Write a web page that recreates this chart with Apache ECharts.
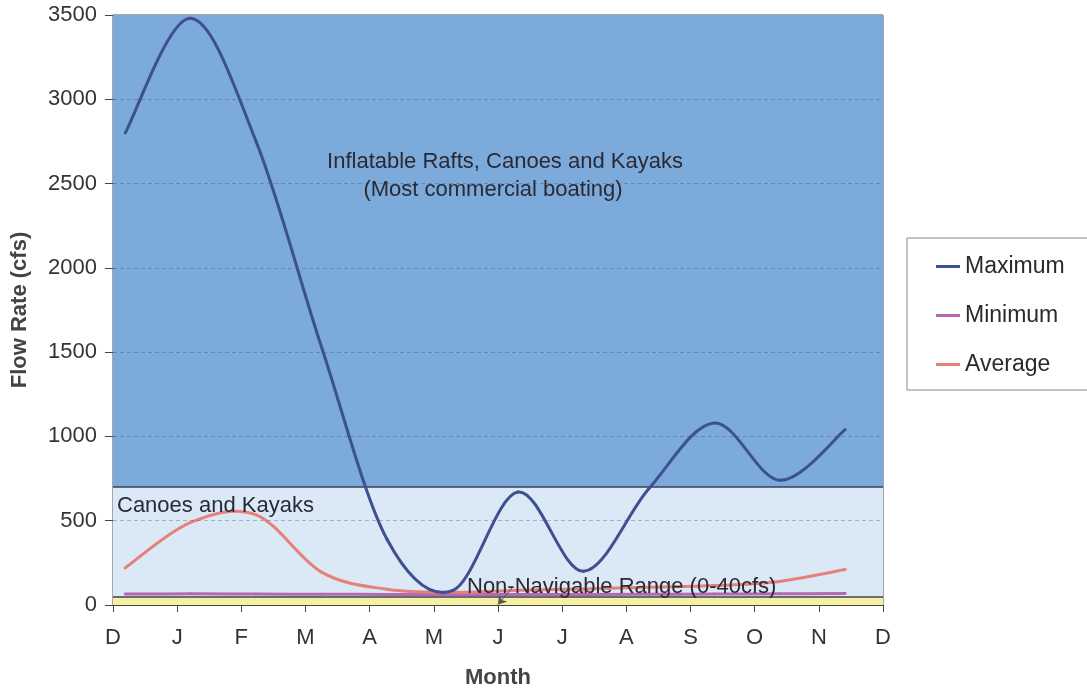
<!DOCTYPE html>
<html>
<head>
<meta charset="utf-8">
<script src="https://cdn.jsdelivr.net/npm/echarts@6/dist/echarts.min.js"></script>
<style>
html,body{margin:0;padding:0;background:#fff;}
#chart{width:1087px;height:694px;}
</style>
</head>
<body>
<div id="chart"></div>
<script>
// ---- data ----
var monthLabels = ['D','J','F','M','A','M','J','J','A','S','O','N','D'];
var pointX = [0.19, 1.21, 2.23, 3.25, 4.27, 5.29, 6.31, 7.33, 8.35, 9.37, 10.39, 11.41];
var maximum = [2800, 3480, 2750, 1530, 390, 85, 670, 200, 690, 1080, 740, 1040];
var minimum = [65, 66, 65, 64, 63, 62, 62, 63, 64, 65, 66, 68];
var average = [220, 490, 535, 195, 93, 75, 88, 95, 105, 115, 140, 210];
var yTicks = [0, 500, 1000, 1500, 2000, 2500, 3000, 3500];
var bandLow = [0, 50, 700];
var bandHigh = [50, 700, 3500];
var bandNames = ['Non-Navigable Range (0-40cfs)', 'Canoes and Kayaks', 'Inflatable Rafts, Canoes and Kayaks'];

function pairs(xs, ys){ return ys.map(function(v,i){ return [xs[i], v]; }); }

var chart = echarts.init(document.getElementById('chart'), null, {renderer:'canvas'});
var font = '"Liberation Sans", Arial, sans-serif';
var bandColors = ['#f4efa2', '#dbe8f6', '#7caadb'];

// smooth (Catmull-Rom style) line drawn segment by segment through the axis scales
function smoothSeries(name, ys, color, z){
  return {
    name: name, type: 'custom', z: z,
    data: pairs(pointX, ys),
    itemStyle: {color: color},
    encode: {x: 0, y: 1},
    renderItem: function(params, api){
      var i = params.dataIndex, n = ys.length;
      if (i >= n - 1) return null;
      var p = function(k){ k = Math.max(0, Math.min(n - 1, k)); return api.coord([pointX[k], ys[k]]); };
      var p0 = p(i - 1), p1 = p(i), p2 = p(i + 1), p3 = p(i + 2);
      var c1 = [p1[0] + (p2[0] - p0[0]) / 6, p1[1] + (p2[1] - p0[1]) / 6];
      var c2 = [p2[0] - (p3[0] - p1[0]) / 6, p2[1] - (p3[1] - p1[1]) / 6];
      return {
        type: 'bezierCurve',
        shape: {x1: p1[0], y1: p1[1], cpx1: c1[0], cpy1: c1[1], cpx2: c2[0], cpy2: c2[1], x2: p2[0], y2: p2[1]},
        style: {stroke: color, lineWidth: 3, fill: null, lineCap: 'round'}
      };
    }
  };
}

var option = {
  animation: false,
  textStyle: {fontFamily: font},
  grid: {left: 113, right: 204, top: 15, bottom: 87, show: true, borderColor: '#4a4a55', borderWidth: 1, backgroundColor: 'transparent'},
  legend: {
    data: ['Maximum','Minimum','Average'],
    orient: 'vertical', left: 907, top: 238,
    padding: [17, 60, 14, 29], itemGap: 26,
    itemWidth: 24, itemHeight: 3, icon: 'rect',
    borderColor: '#8a8a8a', borderWidth: 1,
    textStyle: {fontSize: 23, color: '#2a2a2a', fontFamily: font, padding: [0,0,0,0]}
  },
  xAxis: {
    type: 'value', min: 0, max: 12, interval: 1,
    name: 'Month', nameLocation: 'middle', nameGap: 62,
    nameTextStyle: {fontSize: 22, fontWeight: 'bold', color: '#444', fontFamily: font},
    axisLine: {show: true, lineStyle: {color: '#444', width: 1}},
    axisTick: {show: true, length: 7, lineStyle: {color: '#444'}},
    axisLabel: {fontSize: 22, color: '#333', margin: 22, fontFamily: font,
      formatter: function(v){ return monthLabels[Math.round(v)] || ''; }},
    splitLine: {show: false}
  },
  yAxis: {
    type: 'value', min: 0, max: 3500, interval: 500,
    name: 'Flow Rate (cfs)', nameLocation: 'middle', nameGap: 82,
    nameTextStyle: {fontSize: 22, fontWeight: 'bold', color: '#444', fontFamily: font},
    axisLine: {show: true, lineStyle: {color: '#444', width: 1}},
    axisTick: {show: true, length: 8, lineStyle: {color: '#444'}},
    axisLabel: {fontSize: 22, color: '#333', margin: 16, fontFamily: font,
      formatter: function(v){ return String(v); }},
    splitLine: {show: false}
  },
  series: [
    {
      name: 'bands', type: 'line', data: [], z: 1, silent: true,
      markArea: {
        silent: true,
        data: bandLow.map(function(lo, i){
          return [{yAxis: lo, itemStyle: {color: bandColors[i]}}, {yAxis: bandHigh[i]}];
        })
      },
      markLine: {
        silent: true, symbol: ['none','none'], label: {show: false},
        data: yTicks.slice(1, yTicks.length - 1).map(function(v){
          return {yAxis: v, lineStyle: {type: [4,3], color: 'rgba(70,70,100,0.35)', width: 1}};
        }).concat([
          {yAxis: bandLow[1], lineStyle: {type: 'solid', color: '#3b3f58', width: 1.5}},
          {yAxis: bandLow[2], lineStyle: {type: 'solid', color: '#3b3f58', width: 1.5}},
          [{coord: [6.23, 106], symbol: 'none', lineStyle: {type: 'solid', color: '#555', width: 1}},
           {coord: [6.0, 3], symbol: 'arrow', symbolSize: 8}]
        ])
      }
    },
    smoothSeries('Minimum', minimum, '#b568ad', 3),
    smoothSeries('Average', average, '#e6807a', 4),
    smoothSeries('Maximum', maximum, '#3c5092', 5)
  ],
  graphic: [
    {type: 'text', z: 10, style: {text: bandNames[2], font: '22px ' + font, fill: '#2a2a35', textAlign: 'center', textVerticalAlign: 'middle', x: 505, y: 162}},
    {type: 'text', z: 10, style: {text: '(Most commercial boating)', font: '22px ' + font, fill: '#2a2a35', textAlign: 'center', textVerticalAlign: 'middle', x: 493, y: 190}},
    {type: 'text', z: 10, style: {text: bandNames[1], font: '22px ' + font, fill: '#2a2a35', textAlign: 'left', textVerticalAlign: 'middle', x: 117, y: 506}},
    {type: 'text', z: 10, style: {text: bandNames[0], font: '22px ' + font, fill: '#2a2a35', textAlign: 'left', textVerticalAlign: 'middle', x: 467, y: 587}}
  ]
};
chart.setOption(option);
</script>
</body>
</html>
